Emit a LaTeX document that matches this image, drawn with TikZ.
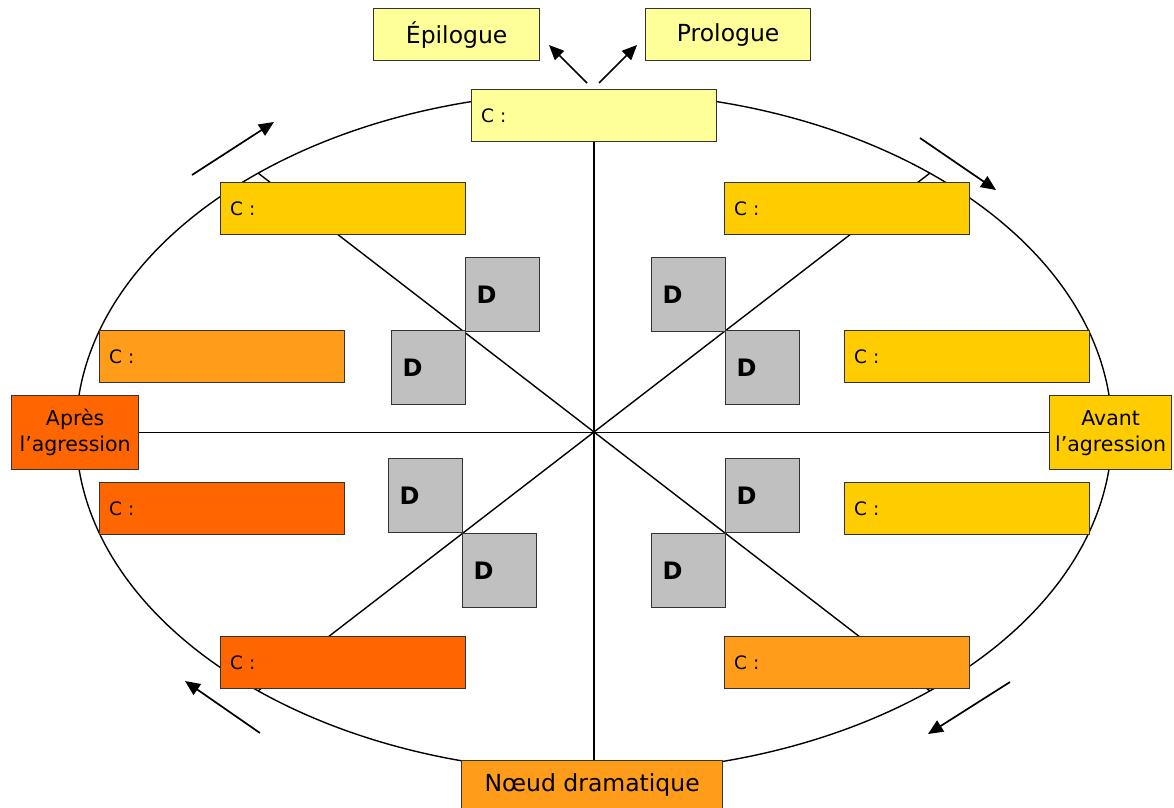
\documentclass[tikz,border=0pt]{standalone}
\usepackage{fontspec}
\setmainfont{DejaVu Sans}
\usetikzlibrary{arrows.meta}
\definecolor{lyellow}{HTML}{FFFF99}
\definecolor{gold}{HTML}{FFCC00}
\definecolor{orangeA}{HTML}{FF9C1A}
\definecolor{orangeB}{HTML}{FF6600}
\definecolor{dgray}{HTML}{C0C0C0}
\definecolor{edge}{HTML}{333333}
\begin{document}
\begin{tikzpicture}[x=1pt,y=-1pt,
  box/.style={draw=edge, line width=1.3pt, anchor=north west, inner sep=0pt},
  cbox/.style={box, minimum width=245pt, minimum height=52pt, text width=226pt, align=left, font=\fontsize{18.5}{22}\selectfont},
  dbox/.style={box, fill=dgray, minimum width=74pt, minimum height=74pt, text width=52pt, align=left, font=\fontsize{24}{27}\selectfont\bfseries},
  lbl/.style={box, align=center, font=\fontsize{23.5}{27}\selectfont},
  side/.style={box, align=center, font=\fontsize{20.5}{26}\selectfont},
  conn/.style={line width=1.4pt, black},
  arr/.style={line width=1.7pt, -{Triangle[length=15pt,width=13pt]}}
]
\useasboundingbox (0,0) rectangle (1174,807);
\fill[white] (0,0) rectangle (1174,807);
% ellipse
\coordinate (O) at (594,432);
\draw[conn] (O) ellipse [x radius=518, y radius=340];
\coordinate (tl) at (258,173);
\coordinate (tr) at (930,173);
\coordinate (bl) at (258,691);
\coordinate (br) at (930,691);
\draw[conn] (tl) -- (br);
\draw[conn] (tr) -- (bl);
% top boxes
\node[lbl, fill=lyellow, minimum width=166pt, minimum height=52pt] (epi) at (373,8) {Épilogue};
\node[lbl, fill=lyellow, minimum width=165pt, minimum height=52pt] (pro) at (645,8) {Prologue};
\node[cbox, fill=lyellow] (ctop) at (471,89) {C :};
% side labels
\node[side, fill=orangeB, minimum width=127pt, minimum height=74pt] (apres) at (11,395) {Après\\l’agression};
\node[side, fill=gold, minimum width=122pt, minimum height=74pt] (avant) at (1049,395) {Avant\\l’agression};
\node[lbl, fill=orangeA, minimum width=261pt, minimum height=48pt] (noeud) at (461,760) {Nœud dramatique};
% axes
\draw[conn] (ctop.south -| O) -- (noeud.north -| O);
\draw[conn] (apres.east) -- (avant.west);
% C boxes
\node[cbox, fill=gold] (c1) at (220,182) {C :};
\node[cbox, fill=gold] (c2) at (724,182) {C :};
\node[cbox, fill=orangeA] (c3) at (99,330) {C :};
\node[cbox, fill=gold] (c4) at (844,330) {C :};
\node[cbox, fill=orangeB] (c5) at (99,482) {C :};
\node[cbox, fill=gold] (c6) at (844,482) {C :};
\node[cbox, fill=orangeB] (c7) at (220,636) {C :};
\node[cbox, fill=orangeA] (c8) at (724,636) {C :};
% D boxes
\node[dbox] (d1) at (465,257) {D};
\node[dbox] (d2) at (391,330) {D};
\node[dbox] (d3) at (651,257) {D};
\node[dbox] (d4) at (725,330) {D};
\node[dbox] (d5) at (388,458) {D};
\node[dbox] (d6) at (462,533) {D};
\node[dbox] (d7) at (725,458) {D};
\node[dbox] (d8) at (651,533) {D};
% arrows
\coordinate (ea) at (587,83);
\coordinate (eb) at (549,45);
\coordinate (pa) at (599,83);
\coordinate (pb) at (637,45);
\draw[arr] (ea) -- (eb);
\draw[arr] (pa) -- (pb);
\coordinate (a1) at (192,175);
\coordinate (a1e) at (274,122);
\coordinate (a2) at (920,138);
\coordinate (a2e) at (996,190);
\coordinate (a3) at (1010,682);
\coordinate (a3e) at (928,734);
\coordinate (a4) at (260,733);
\coordinate (a4e) at (185,681);
\draw[arr] (a1) -- (a1e);
\draw[arr] (a2) -- (a2e);
\draw[arr] (a3) -- (a3e);
\draw[arr] (a4) -- (a4e);
\end{tikzpicture}
\end{document}
